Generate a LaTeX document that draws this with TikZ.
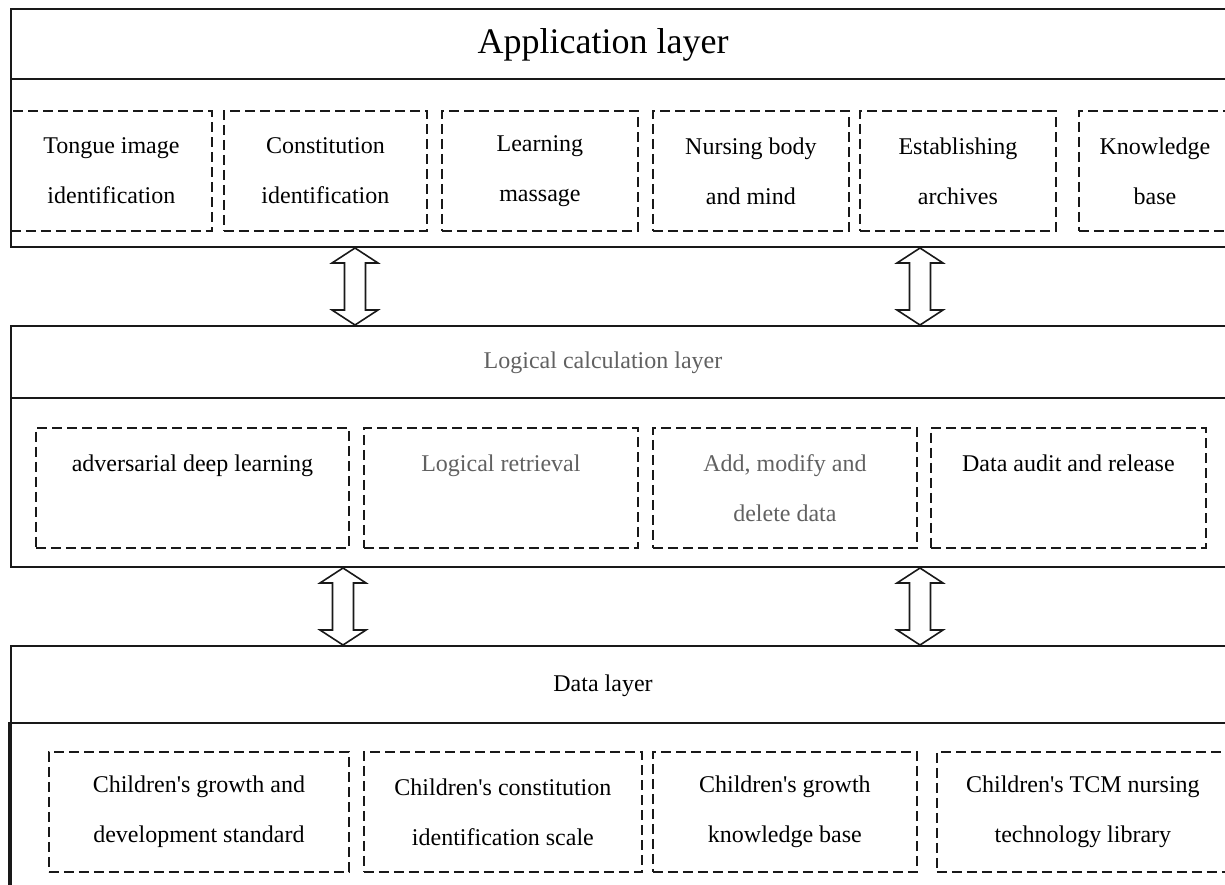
\documentclass[tikz,border=0pt]{standalone}
\usepackage{fontspec}
\setmainfont{Liberation Serif}
\definecolor{ink}{rgb}{0.1,0.1,0.1}
\definecolor{greyink}{rgb}{0.38,0.38,0.38}

\begin{document}
\begin{tikzpicture}[x=1pt,y=-1pt,
	band/.style={draw=ink,line width=2pt,minimum width=1240pt,anchor=north west,inner sep=0pt},
	dbox/.style={draw=ink,dash pattern=on 10pt off 5pt,line width=1.8pt,anchor=north west,inner sep=0pt,minimum height=120pt,align=center,font=\fontsize{24}{50}\selectfont},
	layertitle/.style={font=\fontsize{24}{28}\selectfont},
	updown/.pic={\draw[ink,fill=white,line width=1.6pt,line join=miter] (0,0) -- (23,15) -- (10.5,15) -- (10.5,62) -- (23,62) -- (0,77) -- (-23,62) -- (-10.5,62) -- (-10.5,15) -- (-23,15) -- cycle;}]
				\useasboundingbox (0,0) rectangle (1225,884);
				\fill[white] (0,0) rectangle (1225,884);
				\clip (0,0) rectangle (1225,884);
				
				% layer bands
				\node[band,minimum height=70pt] (apphead) at (10,8) {};
				\node[band,minimum height=168pt] (appbody) at (10,78) {};
				\node[band,minimum height=72pt] (logichead) at (10,325) {};
				\node[band,minimum height=169pt] (logicbody) at (10,397) {};
				\node[band,minimum height=77pt] (datahead) at (10,645) {};
				\node[band,minimum height=200pt] (databody) at (10,722) {};
				\draw[ink,line width=3.5pt] (databody.north west) -- (databody.south west);
				
				\node[font=\fontsize{36}{40}\selectfont] (apptitle) at (603,45) {Application layer};
				\node[layertitle,text=greyink] (logictitle) at (603,363) {Logical calculation layer};
				\node[layertitle] (datatitle) at (603,686) {Data layer};
				
				% application layer
				\node[dbox,minimum width=201pt] (tongue) at (10,110) {Tongue image\\identification};
				\node[dbox,minimum width=203pt] (constit) at (223,110) {Constitution\\identification};
				\node[dbox,minimum width=196pt] (massage) at (441,110) {Learning\\massage};
				\node[dbox,minimum width=196pt] (nursing) at (652,110) {Nursing body\\and mind};
				\node[dbox,minimum width=196pt] (archive) at (859,110) {Establishing\\archives};
				\node[dbox,minimum width=152pt] (knowbase) at (1078,110) {Knowledge\\base};
				
				% logical calculation layer
				\node[dbox,minimum width=313pt] (adverse) at (35,427) {adversarial deep learning\\\mbox{}};
				\node[dbox,minimum width=274pt,text=greyink] (retrieve) at (363,427) {Logical retrieval\\\mbox{}};
				\node[dbox,minimum width=264pt,text=greyink] (modify) at (652,427) {Add, modify and\\delete data};
				\node[dbox,minimum width=275pt] (audit) at (930,427) {Data audit and release\\\mbox{}};
				
				% data layer
				\node[dbox,minimum width=300pt] (growstd) at (48,751) {Children\textquotesingle s growth and\\development standard};
				\node[dbox,minimum width=278pt] (scale) at (363,751) {Children\textquotesingle s constitution\\identification scale};
				\node[dbox,minimum width=264pt] (growkb) at (652,751) {Children\textquotesingle s growth\\knowledge base};
				\node[dbox,minimum width=292pt] (tcmlib) at (936,751) {Children\textquotesingle s TCM nursing\\technology library};
				
				% arrows between layers
				\pic (arr1) at (appbody.south -| 355,0) {updown};
				\pic (arr2) at (appbody.south -| 920,0) {updown};
				\pic (arr3) at (logicbody.south -| 343,0) {updown};
				\pic (arr4) at (logicbody.south -| 920,0) {updown};
				
			\end{tikzpicture}
\end{document}
